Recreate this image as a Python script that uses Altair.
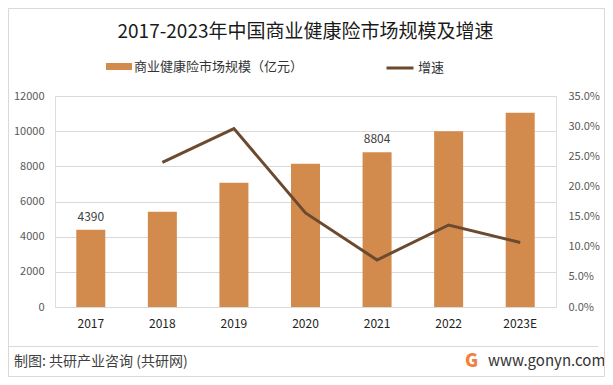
import altair as alt
import pandas as pd

# ---- data ----
years = ["2017", "2018", "2019", "2020", "2021", "2022", "2023E"]
market_size = [4390, 5420, 7060, 8150, 8804, 9990, 11050]          # 亿元
growth = [None, 0.240, 0.296, 0.156, 0.078, 0.136, 0.107]           # 增速
labeled_years = ["2017", "2021"]
left_ticks = [0, 2000, 4000, 6000, 8000, 10000, 12000]
right_ticks = [0, 0.05, 0.10, 0.15, 0.20, 0.25, 0.30, 0.35]

bar_name = "商业健康险市场规模（亿元）"
line_name = "增速"
title_text = "2017-2023年中国商业健康险市场规模及增速"
source_text = "制图: 共研产业咨询 (共研网)"
site_text = "www.gonyn.com"

BAR_COLOR = "#D38B4D"
LINE_COLOR = "#6B4A2F"
GRID = "#D9D9D9"
FONT = "Noto Sans CJK SC"

df = pd.DataFrame({
    "year": years,
    "size": market_size,
    "growth": growth,
    "bar_series": bar_name,
    "line_series": line_name,
})
df["label"] = [str(v) if y in labeled_years else "" for y, v in zip(years, market_size)]

W, H = 501, 211

x_enc = alt.X(
    "year:N", sort=years, title=None,
    scale=alt.Scale(paddingInner=0, paddingOuter=0),
    axis=alt.Axis(domain=False, ticks=False, grid=False, labelPadding=11,
                  labelFontSize=12, labelColor="#222222", labelAngle=0),
)

left_axis = alt.Axis(values=left_ticks, format="d", labelOverlap=False,
                     domain=False, ticks=False, labelPadding=11, labelFontSize=11,
                     labelColor="#595959", gridColor=GRID, gridWidth=1)

base = alt.Chart(df)

bars = base.mark_bar(size=29).encode(
    x=x_enc,
    y=alt.Y("size:Q", title=None,
            scale=alt.Scale(domain=[0, 12000], nice=False),
            axis=left_axis),
    color=alt.Color("bar_series:N", title=None,
                    scale=alt.Scale(domain=[bar_name], range=[BAR_COLOR]),
                    legend=alt.Legend(orient="none", legendX=51, legendY=-42.5,
                                      padding=0, symbolType="M-1,-0.27H1V0.27H-1Z",
                                      symbolSize=676, symbolStrokeWidth=0,
                                      labelOffset=2, labelFontSize=13,
                                      labelColor="#333333", labelFont=FONT,
                                      labelLimit=300)),
)

labels = base.mark_text(dy=-13, fontSize=12, color="#404040", font=FONT).encode(
    x=x_enc,
    y=alt.Y("size:Q", title=None, scale=alt.Scale(domain=[0, 12000], nice=False),
            axis=left_axis),
    text="label:N",
)

left_layer = alt.layer(bars, labels)

line = base.transform_filter("isValid(datum.growth)").mark_line(strokeWidth=3).encode(
    x=x_enc,
    y=alt.Y("growth:Q", title=None,
            scale=alt.Scale(domain=[0, 0.35], nice=False),
            axis=alt.Axis(orient="right", values=right_ticks, format=".1%",
                          labelOverlap=False,
                          domain=False, ticks=False, grid=False, labelPadding=12,
                          labelFontSize=11, labelColor="#595959", labelAlign="left")),
    stroke=alt.Stroke("line_series:N", title=None,
                      scale=alt.Scale(domain=[line_name], range=[LINE_COLOR]),
                      legend=alt.Legend(orient="none", legendX=330, legendY=-43,
                                        padding=0, symbolType="stroke",
                                        symbolSize=729, symbolStrokeWidth=3,
                                        labelOffset=3, labelFontSize=13,
                                        labelColor="#333333", labelFont=FONT)),
)

def note(text, x, y, **kw):
    return alt.Chart(pd.DataFrame({"t": [text]})).mark_text(
        baseline="middle", font=FONT, **kw
    ).encode(x=alt.value(x), y=alt.value(y), text="t:N")

title = note(title_text, W / 2, -64.5, fontSize=19, color="#1a1a1a", align="center")
source = note(source_text, -41, 266, fontSize=14, color="#404040", align="left")
site = note(site_text, 433, 265, fontSize=15, color="#333333", align="left")
logo = note("G", 416.5, 266, fontSize=18, fontWeight=900, color="#F0823E", align="center")

sep = alt.Chart(pd.DataFrame({"a": [0]})).mark_rule(color=GRID, strokeWidth=1).encode(
    x=alt.value(-46), x2=alt.value(543), y=alt.value(250.5))

border = alt.Chart(pd.DataFrame({"a": [0]})).mark_rect(
    fill="white", fillOpacity=0, stroke=GRID, strokeWidth=1).encode(
    x=alt.value(-46.5), x2=alt.value(549.5), y=alt.value(-87.5), y2=alt.value(280.5))

main = alt.layer(left_layer, line).resolve_scale(y="independent")

chart = alt.layer(main, title, source, site, logo, sep, border).properties(
    width=W, height=H,
    autosize=alt.AutoSizeParams(type="none"),
    padding={"left": 47, "top": 88, "right": 49, "bottom": 70},
    background="white",
).configure_view(stroke=None).configure(font=FONT)

chart.save("out.html", embed_options={"renderer": "svg", "actions": False})
